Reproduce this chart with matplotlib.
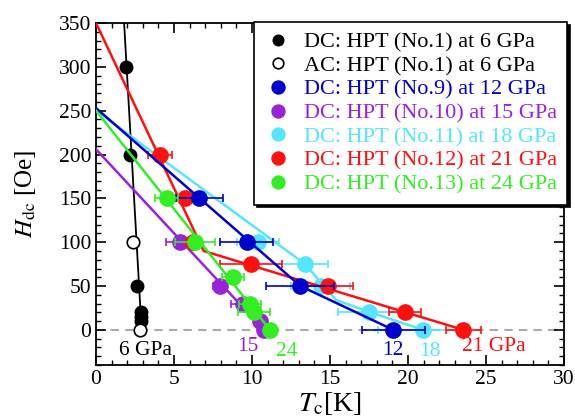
import matplotlib.pyplot as plt
from matplotlib.ticker import MultipleLocator

plt.rcParams['font.family'] = 'Liberation Serif'
plt.rcParams['mathtext.fontset'] = 'stix'

# --- data (Tc in K, Hdc in Oe, horizontal error in K) ---
dc6_tc = [1.9, 2.18, 2.6, 2.87, 2.88, 2.86]
dc6_h = [300, 200, 50, 20, 15, 10]
ac6_tc = [2.4, 2.82]
ac6_h = [100, 0]
line6_tc = [1.8, 2.92]
line6_h = [350, 0]

p12_tc = [6.62, 9.66, 13.08, 19.06]
p12_h = [150, 100, 50, 0]
p12_err = [1.5, 1.7, 2.2, 2.0]
line12_tc = [0, 13.1, 19.06]
line12_h = [253, 50, 0]

p15_tc = [5.4, 7.95, 9.4, 10.5, 10.75]
p15_h = [100, 50, 30, 10, 0]
p15_err = [0.9, 0.45, 0.75, 0.3, 0.3]
line15_tc = [0, 10.75]
line15_h = [206, 0]

p18_tc = [10.4, 13.4, 14.4, 17.5, 20.98]
p18_h = [100, 75, 50, 20, 0]
p18_err = [1.35, 1.5, 1.9, 2.0, 2.9]
line18_tc = [0, 13.4, 15.4, 17.5, 20.98]
line18_h = [250, 75, 34, 20.5, 0]

p21_tc = [4.1, 5.7, 6.24, 9.94, 14.9, 19.8, 23.55]
p21_h = [200, 150, 100, 75, 50, 20, 0]
p21_err = [0.75, 0.5, 0.5, 2.0, 1.6, 1.0, 1.1]
line21_tc = [0, 6.9, 23.55]
line21_h = [350, 90, 0]

p24_tc = [4.53, 6.35, 8.8, 9.87, 10.13, 11.15]
p24_h = [150, 100, 60, 30, 20, 0]
p24_err = [0.75, 1.3, 0.7, 0.7, 1.0, 0.4]
line24_tc = [0, 11.15]
line24_h = [250, 0]

# pressure labels: text, Tc position, Hdc position
plabels = ['6 GPa', '15', '24', '12', '18', '21 GPa']
plabel_tc = [3.15, 9.7, 12.2, 19.05, 21.4, 25.5]
plabel_h = [-23, -19, -24.5, -23, -24.5, -19]

c_blue = '#0000cc'
c_purple = '#9a22d8'
c_cyan = '#55e5ff'
c_red = '#ff1010'
c_green = '#33ee22'
plabel_colors = ['black', c_purple, c_green, c_blue, c_cyan, c_red]

fig = plt.figure(figsize=(5.75, 4.19), dpi=100)
ax = fig.add_axes([0.167, 0.129, 0.814, 0.816])

ax.axhline(0, color='#aaaaaa', linestyle='--', linewidth=1.5, dashes=(4, 3), zorder=1)

# 6 GPa
ax.plot(line6_tc, line6_h, color='black', linewidth=1.3, zorder=2)
ax.plot(dc6_tc, dc6_h, 'o', color='black', markersize=9, zorder=3,
        label='DC: HPT (No.1) at 6 GPa')
ax.plot(ac6_tc, ac6_h, 'o', color='black', markerfacecolor='white',
        markeredgewidth=1.2, markersize=9, zorder=3,
        label='AC: HPT (No.1) at 6 GPa')

series = [
    (p15_tc, p15_h, p15_err, line15_tc, line15_h, c_purple, 'DC: HPT (No.10) at 15 GPa', 4),
    (p18_tc, p18_h, p18_err, line18_tc, line18_h, c_cyan, 'DC: HPT (No.11) at 18 GPa', 5),
    (p21_tc, p21_h, p21_err, line21_tc, line21_h, c_red, 'DC: HPT (No.12) at 21 GPa', 6),
    (p12_tc, p12_h, p12_err, line12_tc, line12_h, c_blue, 'DC: HPT (No.9) at 12 GPa', 7),
    (p24_tc, p24_h, p24_err, line24_tc, line24_h, c_green, 'DC: HPT (No.13) at 24 GPa', 8),
]
handles = {}
for tc, h, err, ltc, lh, col, lab, z in series:
    ax.plot(ltc, lh, color=col, linewidth=1.8, zorder=z)
    ax.errorbar(tc, h, xerr=err, fmt='none', ecolor=col, elinewidth=1.2,
                capsize=3, capthick=1.2, zorder=z)
    handles[lab] = ax.plot(tc, h, 'o', color=col, markersize=11, zorder=z + 0.5,
                           label=lab)[0]

for t, x, y, c in zip(plabels, plabel_tc, plabel_h, plabel_colors):
    ax.text(x, y, t, color=c, fontsize=15.5, ha='center', va='center')

ax.set_xlim(0, 30)
ax.set_ylim(-40, 350)
ax.xaxis.set_major_locator(MultipleLocator(5))
ax.xaxis.set_minor_locator(MultipleLocator(1))
ax.yaxis.set_major_locator(MultipleLocator(50))
ax.yaxis.set_minor_locator(MultipleLocator(10))
ax.tick_params(which='both', direction='in', top=True, right=True, labelsize=15.5)
ax.tick_params(which='major', length=7, width=1.2)
ax.tick_params(which='minor', length=3.5, width=1.0)
for sp in ax.spines.values():
    sp.set_linewidth(1.3)

ax.set_xlabel(r'$T_{\rm c}$[K]', fontsize=20, labelpad=1)
ax.set_ylabel(r'$H_{\rm dc}$ [Oe]', fontsize=18, labelpad=15)

order = ['DC: HPT (No.9) at 12 GPa', 'DC: HPT (No.10) at 15 GPa',
         'DC: HPT (No.11) at 18 GPa', 'DC: HPT (No.12) at 21 GPa',
         'DC: HPT (No.13) at 24 GPa']
h_all, l_all = ax.get_legend_handles_labels()
h0 = [h_all[0], h_all[1]] + [handles[k] for k in order]
l0 = [l_all[0], l_all[1]] + order
leg = ax.legend(h0, l0, loc='upper right', bbox_to_anchor=(1.006, 1.003),
                borderaxespad=0, fontsize=16, labelspacing=0.14,
                handlelength=1.3, handletextpad=0.5, borderpad=0.45,
                markerscale=0.85, fancybox=False, edgecolor='black',
                framealpha=1, shadow={'color': 'black', 'alpha': 1})
leg.get_frame().set_linewidth(1.2)
for txt, hd in zip(leg.get_texts(), h0):
    txt.set_color(hd.get_color())
leg.set_zorder(20)

plt.savefig('out.png', dpi=100)
